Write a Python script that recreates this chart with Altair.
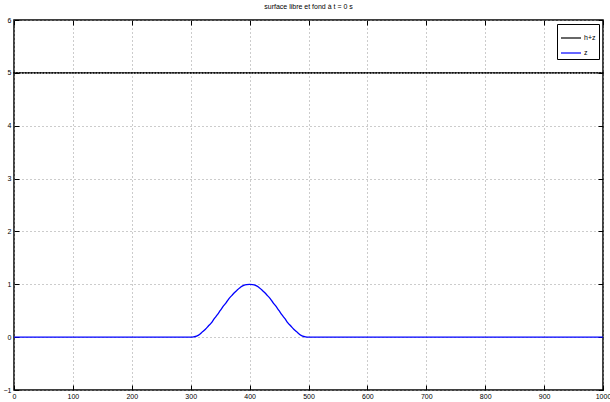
import altair as alt
import pandas as pd

# h+z : free surface (constant level), sampled on the model grid
x_hz = list(range(0, 1001, 5))
hz = [5.0] * len(x_hz)

# z : bottom elevation
x_z = [0, 300, 305, 310, 315, 320, 325, 330, 335, 340, 345, 350, 355, 360, 365,
       370, 375, 380, 385, 390, 395, 400, 405, 410, 415, 420, 425, 430, 435,
       440, 445, 450, 455, 460, 465, 470, 475, 480, 485, 490, 495, 500, 1000]
z = [0.0, 0.0, 0.006, 0.02, 0.05, 0.10, 0.15, 0.21, 0.27, 0.35, 0.42, 0.50,
     0.58, 0.65, 0.73, 0.79, 0.85, 0.90, 0.95, 0.98, 0.995, 1.0, 0.995, 0.98,
     0.95, 0.90, 0.85, 0.79, 0.73, 0.65, 0.58, 0.50, 0.42, 0.35, 0.27, 0.21,
     0.15, 0.10, 0.05, 0.02, 0.006, 0.0, 0.0]

x_ticks = list(range(0, 1001, 100))
y_ticks = list(range(-1, 7))
series = ["h+z", "z"]
colors = ["#000000", "#0000ff"]

df_hz = pd.DataFrame({"x": x_hz, "y": hz, "serie": "h+z"})
df_z = pd.DataFrame({"x": x_z, "y": z, "serie": "z"})

FONT = "Liberation Sans"
xs = alt.Scale(domain=[0, 1000], nice=False, zero=False)
ys = alt.Scale(domain=[-1, 6], nice=False, zero=False)

common_axis = dict(domain=False, tickSize=5, offset=-5, tickColor="black",
                   tickWidth=1, labelFont=FONT, labelFontSize=7, labelColor="black",
                   title=None, format="d")

x_bottom = alt.Axis(orient="bottom", values=x_ticks, grid=True, gridDash=[1, 3],
                    gridColor="#999999", gridWidth=1, labelPadding=2,
                    labelFlush=False, **common_axis)
y_left = alt.Axis(orient="left", values=y_ticks, grid=True, gridDash=[1, 3],
                  gridColor="#999999", gridWidth=1, labelPadding=3,
                  labelFlush=False, **common_axis)
x_top = alt.Axis(orient="top", values=x_ticks, grid=False, labels=False, **common_axis)
y_right = alt.Axis(orient="right", values=y_ticks, grid=False, labels=False, **common_axis)

color = alt.Color("serie:N",
                  scale=alt.Scale(domain=series, range=colors),
                  legend=alt.Legend(title=None, orient="top-right", offset=4,
                                    symbolType="stroke", symbolSize=400,
                                    symbolStrokeWidth=1.2,
                                    labelFont=FONT, labelFontSize=7, labelColor="black",
                                    strokeColor="black", fillColor="white",
                                    padding=3, rowPadding=1, labelOffset=2))

l_hz = alt.Chart(df_hz).mark_line(
    strokeWidth=1, point=alt.OverlayMarkDef(size=3, filled=True, color="black")
).encode(
    x=alt.X("x:Q", scale=xs, axis=x_bottom),
    y=alt.Y("y:Q", scale=ys, axis=y_left),
    color=color,
)

l_z = alt.Chart(df_z).mark_line(strokeWidth=1.3, interpolate="monotone").encode(
    x=alt.X("x:Q", scale=xs, axis=x_top),
    y=alt.Y("y:Q", scale=ys, axis=y_right),
    color=color,
)

chart = alt.layer(l_hz, l_z).resolve_axis(
    x="independent", y="independent"
).properties(
    width=589, height=370,
    autosize=alt.AutoSizeParams(type="none"),
    padding={"left": 14, "top": 20, "right": 7, "bottom": 12},
    title=alt.TitleParams("surface libre et fond à t = 0 s", font=FONT,
                          fontSize=7, fontWeight="normal", offset=6,
                          anchor="middle", color="black"),
    background="white",
).configure_view(stroke="black", strokeWidth=1.5)

chart.save("out.html", embed_options={"renderer": "svg", "actions": False})
